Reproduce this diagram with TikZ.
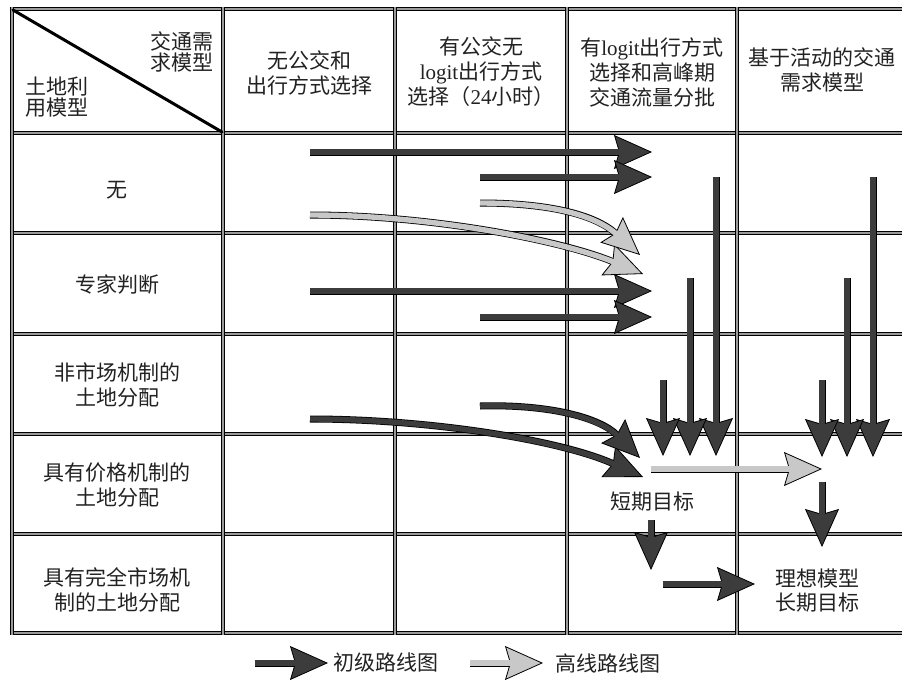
\documentclass[tikz,border=0pt]{standalone}
\usepackage{fontspec}
\setmainfont{Liberation Serif}
\newfontfamily\cjk{Noto Sans CJK SC}
\usetikzlibrary{arrows.meta}
\definecolor{darkfill}{HTML}{3C3C3C}
\definecolor{lightfill}{HTML}{C8C8C8}
\definecolor{gridfill}{HTML}{9A9A9A}
\definecolor{txt}{HTML}{222222}
\newcommand{\lat}[1]{{\rmfamily #1}}
\begin{document}
\begin{tikzpicture}[x=1pt,y=-1pt,
  gridline/.style={line width=0.9pt, draw=black, double=gridfill, double distance=1.6pt},
  darr/.style={draw=black, line width=7pt,
    -{Stealth[length=38pt,width=34pt,inset=5pt,fill=darkfill,line width=0.8pt]},
    postaction={draw=darkfill, line width=5.4pt, shorten >=31pt, -}},
  larr/.style={draw=black, line width=7pt,
    -{Stealth[length=38pt,width=34pt,inset=5pt,fill=lightfill,line width=0.8pt]},
    postaction={draw=lightfill, line width=5.4pt, shorten >=31pt, -}},
  lbl/.style={font=\cjk\fontsize{21}{25}\selectfont, text=txt, align=center, inner sep=0pt},
  hlbl/.style={font=\cjk\fontsize{21}{21.5}\selectfont, text=txt, inner sep=0pt},
]
\useasboundingbox (0,0) rectangle (902,683);
\fill[white] (0,0) rectangle (902,683);

% grid
\foreach \y in {9,133,233,334,434,534,633} \draw[gridline] (10,\y) -- (902,\y);
\foreach \x in {12,223,395,567,737} \draw[gridline] (\x,7) -- (\x,635);
\draw[line width=3pt, line cap=round] (13,10) -- (222,132);

% header texts
\node[hlbl, anchor=east, align=right] (hdA) at (214,52) {交通需\\求模型};
\node[hlbl, anchor=west, align=left] (hdB) at (25,97) {土地利\\用模型};
\node[lbl] (c1) at (309,73) {无公交和\\出行方式选择};
\node[lbl] (c2) at (481,72) {有公交无\\\lat{logit}出行方式\\选择（\lat{24}小时）};
\node[lbl] (c3) at (652,72) {有\lat{logit}出行方式\\选择和高峰期\\交通流量分批};
\node[lbl] (c4) at (822,70) {基于活动的交通\\需求模型};

% row labels
\node[lbl] (r1) at (117,190) {无};
\node[lbl] (r2) at (117,285) {专家判断};
\node[lbl] (r3) at (117,385) {非市场机制的\\土地分配};
\node[lbl] (r4) at (117,485) {具有价格机制的\\土地分配};
\node[lbl] (r5) at (117,590) {具有完全市场机\\制的土地分配};

\node[lbl] (short) at (652,502) {短期目标};
\node[lbl, font=\cjk\fontsize{21}{24}\selectfont] (ideal) at (817,591) {理想模型\\长期目标};

% coordinates
\coordinate (a1s) at (310,152); \coordinate (a1e) at (652,152);
\coordinate (a2s) at (480,177); \coordinate (a2e) at (652,177);
\coordinate (a3s) at (310,291); \coordinate (a3e) at (652,291);
\coordinate (a4s) at (480,317); \coordinate (a4e) at (652,317);
\coordinate (l1s) at (310,215); \coordinate (l1e) at (643,274);
\coordinate (l2s) at (480,203); \coordinate (l2e) at (640,255);
\coordinate (d1s) at (480,406); \coordinate (d1e) at (640,458);
\coordinate (d2s) at (310,419); \coordinate (d2e) at (643,477);
\coordinate (v1s) at (663,380); \coordinate (v1e) at (663,456);
\coordinate (v2s) at (690,278); \coordinate (v2e) at (690,456);
\coordinate (v3s) at (716,177); \coordinate (v3e) at (716,456);
\coordinate (v4s) at (822,380); \coordinate (v4e) at (822,457);
\coordinate (v5s) at (847,278); \coordinate (v5e) at (847,457);
\coordinate (v6s) at (873,177); \coordinate (v6e) at (873,457);
\coordinate (hs) at (651,469); \coordinate (he) at (822,469);
\coordinate (s1s) at (822,482); \coordinate (s1e) at (822,547);
\coordinate (s2s) at (651,520); \coordinate (s2e) at (651,570);
\coordinate (s3s) at (663,584); \coordinate (s3e) at (755,584);

% arrows
\draw[darr] (a1s) -- (a1e);
\draw[darr] (a2s) -- (a2e);
\draw[larr] (l1s) .. controls (430,215) and (560,240) .. (l1e);
\draw[larr] (l2s) .. controls (550,203) and (595,215) .. (l2e);
\draw[darr] (a3s) -- (a3e);
\draw[darr] (a4s) -- (a4e);
\draw[darr] (d2s) .. controls (430,419) and (560,440) .. (d2e);
\draw[darr] (d1s) .. controls (550,404) and (600,418) .. (d1e);
\draw[darr] (v3s) -- (v3e);
\draw[darr] (v2s) -- (v2e);
\draw[darr] (v1s) -- (v1e);
\draw[darr] (v6s) -- (v6e);
\draw[darr] (v5s) -- (v5e);
\draw[darr] (v4s) -- (v4e);
\draw[larr] (hs) -- (he);
\draw[darr] (s1s) -- (s1e);
\draw[darr] (s2s) -- (s2e);
\draw[darr] (s3s) -- (s3e);

% legend
\coordinate (g1s) at (255,663); \coordinate (g1e) at (328,663);
\coordinate (g2s) at (470,663); \coordinate (g2e) at (543,663);
\draw[darr] (g1s) -- (g1e);
\draw[larr] (g2s) -- (g2e);
\node[lbl, anchor=west] (leg1) at (333,663) {初级路线图};
\node[lbl, anchor=west] (leg2) at (555,663) {高线路线图};
\end{tikzpicture}
\end{document}
